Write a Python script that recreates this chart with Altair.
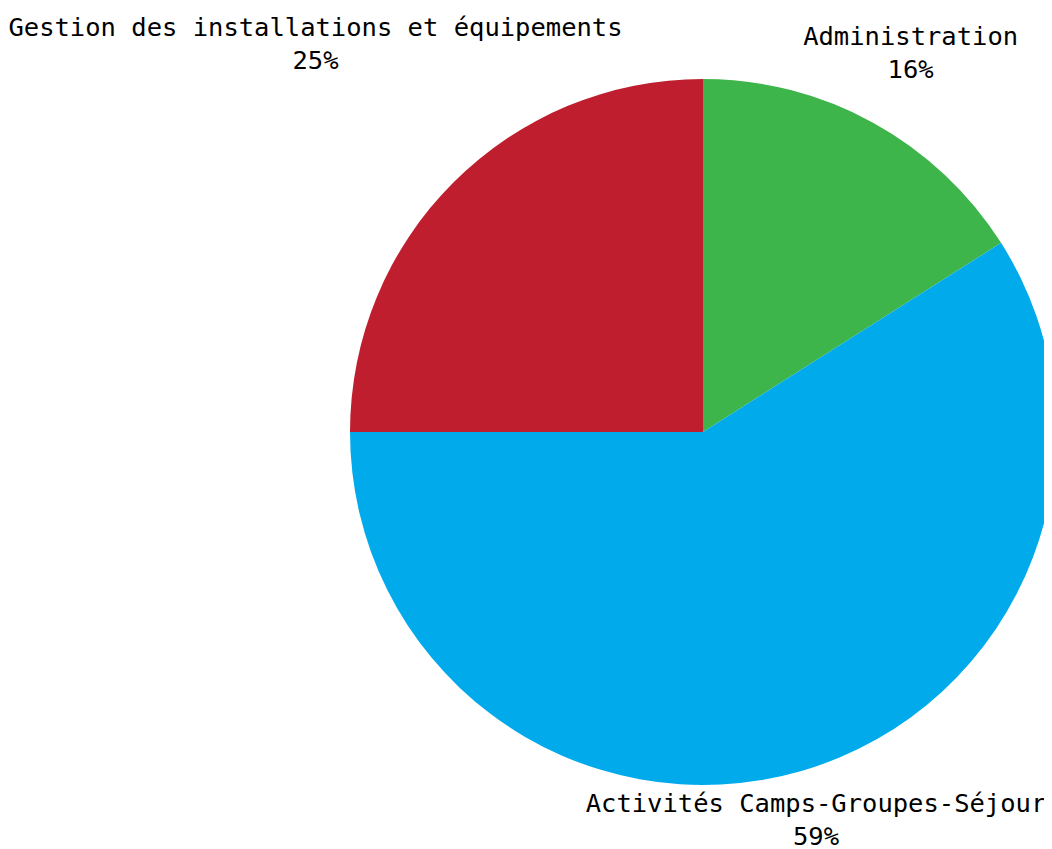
import altair as alt
import pandas as pd
import math

categories = ["Administration", "Activités Camps-Groupes-Séjour", "Gestion des installations et équipements"]
values = [16, 59, 25]
order = [1, 2, 3]
colors = ["#3DB54A", "#00AAEB", "#BE1E2D"]

df = pd.DataFrame({"cat": categories, "val": values, "ord": order})

cx, cy = 695, 424
R = 353

theta_scale = alt.Scale(domain=[0, 1], range=[0, 2 * math.pi])

base = alt.Chart(df).transform_window(
    cum="sum(val)", sort=[alt.SortField("ord")]
).transform_joinaggregate(
    total="sum(val)"
).transform_calculate(
    start="(datum.cum - datum.val) / datum.total",
    end="datum.cum / datum.total",
    mid="(datum.cum - datum.val / 2) / datum.total",
    label="datum.cat + '\\n' + datum.val + '%'",
)

pie = base.mark_arc(outerRadius=R).encode(
    theta=alt.Theta("start:Q", scale=theta_scale),
    theta2="end:Q",
    color=alt.Color("cat:N", scale=alt.Scale(domain=categories, range=colors), legend=None),
    x=alt.value(cx), y=alt.value(cy),
)

def label(name, r):
    return base.transform_filter(alt.datum.cat == name).mark_text(
        radius=r, font="DejaVu Sans Mono", fontSize=25.5, lineBreak="\n",
        lineHeight=33, align="center", baseline="middle", color="#000000", dy=-17
    ).encode(
        theta=alt.Theta("mid:Q", scale=theta_scale),
        text="label:N", x=alt.value(cx), y=alt.value(cy),
    )

chart = alt.layer(
    pie,
    label(categories[0], 431),
    label(categories[1], 405),
    label(categories[2], 548),
).properties(
    width=1036, height=841, padding=0, autosize=alt.AutoSizeParams(type="none")
).configure_view(stroke=None)

chart.save("out.html", embed_options={"renderer": "svg", "actions": False})
